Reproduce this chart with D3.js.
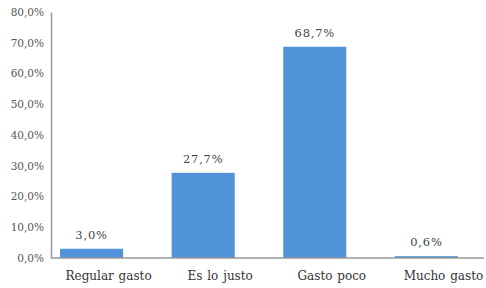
<html lang="es">
<head>
  <meta charset="UTF-8">
  <title>Gasto</title>
  <style>
    body { margin: 0; background: #fff; }
    text { font-family: "DejaVu Serif", "Liberation Serif", serif; }
  </style>
</head>
<body>
  <script src="https://cdn.jsdelivr.net/npm/d3@7"></script>
  <div id="chart"></div>
  <script>
    // data
    let categories = ["Regular gasto", "Es lo justo", "Gasto poco", "Mucho gasto"];
    let values = [3.0, 27.7, 68.7, 0.6];
    let yTicks = [0, 10, 20, 30, 40, 50, 60, 70, 80];

    function translate(x, y) { return 'translate(' + x + ',' + y + ')'; }
    function fmt(v) { return v.toFixed(1).replace('.', ',') + '%'; }

    let width = 486, height = 288;

    let svg = d3.select("#chart")
      .append("svg")
        .attr("width", width)
        .attr("height", height);

    let x = d3.scaleBand()
      .domain(categories)
      .range([51, 467])
      .paddingInner(0.435)
      .paddingOuter(0.081);

    let y = d3.scaleLinear()
      .domain([0, 80])
      .range([258, 12]);

    // y axis
    let yAxis = svg.append("g")
      .attr("transform", translate(51, 0))
      .call(d3.axisLeft(y).tickValues(yTicks).tickSize(0).tickPadding(7).tickFormat(fmt));
    yAxis.select(".domain").attr("stroke", "#999").attr("stroke-width", 1.5);
    yAxis.selectAll("text")
      .style("font-size", "10.5px")
      .style("font-family", "DejaVu Serif, serif")
      .attr("fill", "#555");

    // bars
    svg.selectAll(".bar")
      .data(values)
      .enter().append("rect")
        .attr("class", "bar")
        .attr("x", (d, i) => x(categories[i]))
        .attr("width", x.bandwidth())
        .attr("y", d => y(d))
        .attr("height", d => y(0) - y(d))
        .attr("fill", "#5093d8");

    // baseline
    svg.append("line")
      .attr("x1", 51).attr("x2", 484)
      .attr("y1", y(0)).attr("y2", y(0))
      .attr("stroke", "#999")
      .attr("stroke-width", 1.5);

    // value labels
    svg.selectAll(".val")
      .data(values)
      .enter().append("text")
        .attr("class", "val")
        .attr("x", (d, i) => x(categories[i]) + x.bandwidth() / 2)
        .attr("y", d => y(d) - 10)
        .attr("text-anchor", "middle")
        .style("font-size", "11.5px")
        .style("letter-spacing", "0.8px")
        .attr("fill", "#444")
        .text(d => fmt(d));

    // category labels, shifted right of the bars as in the original
    svg.selectAll(".cat")
      .data(categories)
      .enter().append("text")
        .attr("class", "cat")
        .attr("x", d => x(d) + x.bandwidth() / 2 + 17)
        .attr("y", 280)
        .attr("text-anchor", "middle")
        .style("font-size", "12px")
        .style("word-spacing", "1px")
        .attr("fill", "#333")
        .text(d => d);
  </script>
</body>
</html>
